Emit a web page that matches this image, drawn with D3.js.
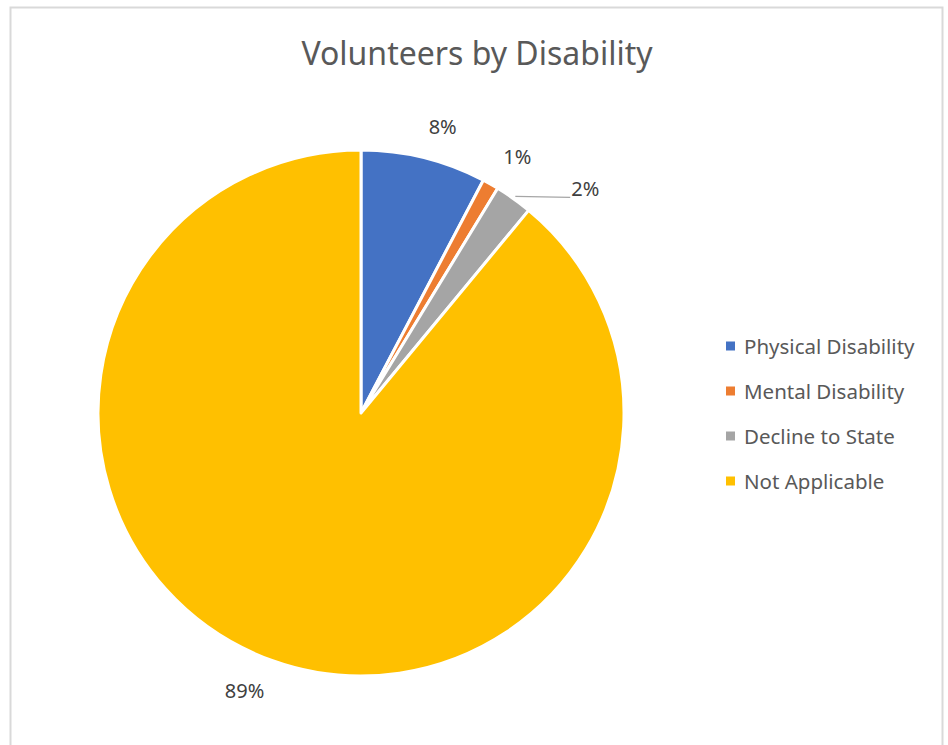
<!DOCTYPE html>
<html>
<head>
<meta charset="utf-8">
<script src="https://cdn.jsdelivr.net/npm/d3@7"></script>
<style>
  body { margin: 0; background: #fff; }
  svg { display: block; font-family: "Noto Sans", "Open Sans", sans-serif; }
</style>
</head>
<body>
<svg id="chart" width="948" height="745"></svg>
<script>
// data (share of volunteers, %)
var categories = ['Physical Disability', 'Mental Disability', 'Decline to State', 'Not Applicable'];
var values = [7.7, 1.0, 2.3, 89.0];
var colors = ['#4472c4', '#ed7d31', '#a5a5a5', '#ffc000'];
var title = 'Volunteers by Disability';

var svg = d3.select('#chart');

// chart frame
svg.append('rect')
  .attr('x', 10.5).attr('y', 7.5)
  .attr('width', 932).attr('height', 760)
  .attr('fill', '#fff')
  .attr('stroke', '#d9d9d9')
  .attr('stroke-width', 2);

svg.append('text')
  .attr('x', 477).attr('y', 52)
  .attr('text-anchor', 'middle')
  .attr('dominant-baseline', 'central')
  .attr('fill', '#595959')
  .style('font-size', '32px')
  .text(title);

var cx = 361, cy = 413, radius = 263;
var total = d3.sum(values);
var data = categories.map((c, i) => ({ name: c, value: values[i], color: colors[i] }));

var pie = d3.pie().sort(null).value(d => d.value);
var arcs = pie(data);
var arc = d3.arc().innerRadius(0).outerRadius(radius);

var g = svg.append('g').attr('transform', `translate(${cx},${cy})`);

g.selectAll('path.slice')
  .data(arcs)
  .enter()
  .append('path')
  .attr('class', 'slice')
  .attr('d', arc)
  .attr('fill', d => d.data.color)
  .attr('stroke', '#fff')
  .attr('stroke-width', 3)
  .attr('stroke-linejoin', 'round');

// data labels, outside end; crowded ones get pushed round the circle with a leader line
var fmt = d3.format('.0%');
var polar = (r, a) => [r * Math.sin(a), -r * Math.cos(a)];
var labels = [];
arcs.forEach(d => {
  var a = (d.startAngle + d.endAngle) / 2;
  var txt = fmt(d.data.value / total);
  var w = txt.length * 11;
  var p = polar(295, a);
  var pos = [p[0] + Math.sign(Math.sin(a)) * w / 2, p[1]];
  var moved = false;
  var prev = labels[labels.length - 1];
  if (prev) {
    var la = a;
    while (Math.hypot(pos[0] - prev.pos[0], pos[1] - prev.pos[1]) < 74) {
      la += Math.PI / 180;
      p = polar(310, la);
      pos = [p[0] + Math.sign(Math.sin(la)) * w / 2, p[1]];
      moved = true;
    }
  }
  labels.push({ txt: txt, pos: pos, a: a, w: w, moved: moved });
});

labels.filter(l => l.moved).forEach(l => {
  var s = polar(radius + 3, l.a);
  g.append('polyline')
    .attr('points', [s, [l.pos[0] - l.w / 2 - 4, s[1] + 1]].map(p => p.join(',')).join(' '))
    .attr('fill', 'none')
    .attr('stroke', '#a6a6a6')
    .attr('stroke-width', 1.2);
});

g.selectAll('text.lbl')
  .data(labels)
  .enter()
  .append('text')
  .attr('class', 'lbl')
  .attr('x', d => d.pos[0])
  .attr('y', d => d.pos[1])
  .attr('text-anchor', 'middle')
  .attr('dominant-baseline', 'central')
  .attr('fill', '#404040')
  .style('font-size', '20px')
  .text(d => d.txt);

// legend
var legendY = d3.scalePoint().domain(categories).range([346, 481]);
var legend = svg.append('g');
var item = legend.selectAll('g')
  .data(data)
  .enter()
  .append('g')
  .attr('transform', d => `translate(726,${legendY(d.name)})`);
item.append('rect')
  .attr('x', 0).attr('y', -4.5)
  .attr('width', 9).attr('height', 9)
  .attr('fill', d => d.color);
item.append('text')
  .attr('x', 18).attr('y', 0)
  .attr('dominant-baseline', 'central')
  .attr('fill', '#595959')
  .style('font-size', '20.5px')
  .text(d => d.name);
</script>
</body>
</html>
